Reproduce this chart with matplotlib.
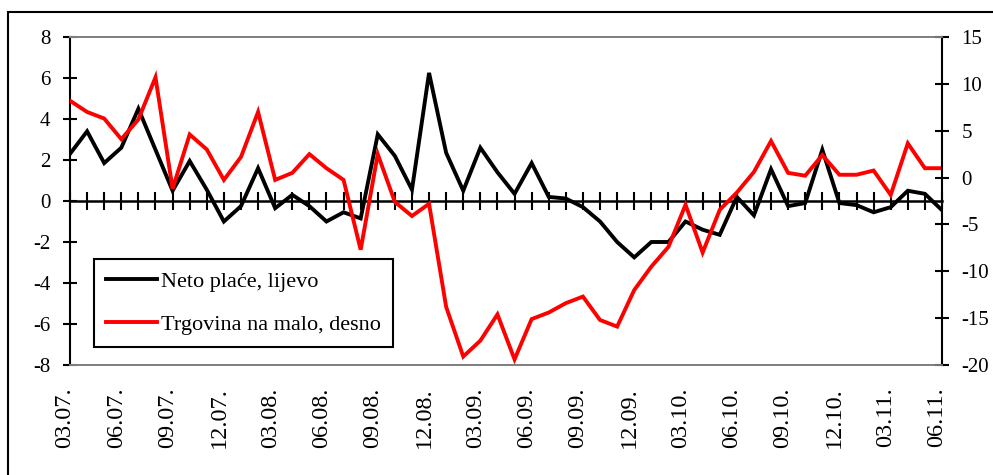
import numpy as np
import matplotlib
matplotlib.use("Agg")
import matplotlib.pyplot as plt
import matplotlib.transforms as mtransforms
from matplotlib.patches import Rectangle

plt.rcParams.update({
    "font.family": ["Liberation Serif", "DejaVu Serif"],
    "axes.unicode_minus": False,
})

# monthly data 03.07. - 06.11.
months = [f"{m:02d}.{y:02d}." for y in range(7, 12) for m in range(1, 13)][2:54]

neto_place = [2.3, 3.4, 1.85, 2.6, 4.5, 2.5, 0.5, 1.95, 0.55, -1.0,
              -0.25, 1.6, -0.35, 0.3, -0.25, -1.0, -0.55, -0.85, 3.25, 2.2,
              0.55, 6.25, 2.35, 0.5, 2.6, 1.4, 0.35, 1.85, 0.2, 0.12,
              -0.3, -1.0, -2.0, -2.75, -2.0, -2.0, -1.0, -1.4, -1.65, 0.2,
              -0.7, 1.55, -0.25, -0.1, 2.5, -0.1, -0.2, -0.55, -0.3, 0.5,
              0.35, -0.45]

trgovina = [8.2, 7.0, 6.3, 4.1, 6.2, 10.7, -1.2, 4.6, 3.0, -0.25,
            2.2, 7.0, -0.25, 0.5, 2.5, 1.0, -0.25, -7.7, 2.5, -2.6,
            -4.1, -2.8, -13.8, -19.1, -17.4, -14.6, -19.4, -15.1, -14.4, -13.4,
            -12.7, -15.2, -15.9, -12.0, -9.5, -7.4, -2.9, -8.0, -3.45, -1.6,
            0.6, 3.9, 0.5, 0.2, 2.4, 0.3, 0.3, 0.75, -1.85, 3.65,
            1.0, 1.0]

left_ticks = [-8, -6, -4, -2, 0, 2, 4, 6, 8]
right_ticks = [-20, -15, -10, -5, 0, 5, 10, 15]
labels = ["Neto plaće, lijevo", "Trgovina na malo, desno"]

W, H = 993, 475
fig = plt.figure(figsize=(W / 100, H / 100), dpi=100)
fig.patch.set_facecolor("white")
box = [70 / W, 1 - 365 / H, 872 / W, 328 / H]
ax = fig.add_axes(box)
ax.patch.set_visible(False)
ax2 = ax.twinx()

x = np.arange(len(months))
l1, = ax.plot(x, neto_place, color="black", lw=2.8, solid_joinstyle="miter")
l2, = ax2.plot(x, trgovina, color="#ff0000", lw=2.8, solid_joinstyle="miter")

ax.set_xlim(0, len(months) - 1)
ax.set_ylim(-8, 8)
ax2.set_ylim(-20, 15)

for a in (ax, ax2):
    a.spines["top"].set_color("#808080")
    a.spines["bottom"].set_color("#808080")
    a.spines["top"].set_linewidth(1.3)
    a.spines["bottom"].set_linewidth(1.3)
ax.spines["left"].set_linewidth(1.5)
ax2.spines["right"].set_linewidth(1.5)
ax.spines["right"].set_visible(False)
ax2.spines["left"].set_visible(False)

ax.set_yticks(left_ticks)
ax.set_yticklabels([str(v) for v in left_ticks])
ax.tick_params(axis="y", direction="inout", length=10, width=1.5, pad=9,
               labelsize=15)
ax2.set_yticks(right_ticks)
ax2.set_yticklabels([str(v) for v in right_ticks])
ax2.tick_params(axis="y", direction="inout", length=10, width=1.5, pad=9,
                labelsize=15)

# month labels at the bottom
ax.set_xticks(x[::3])
ax.set_xticklabels(months[::3], rotation=90)
ax.tick_params(axis="x", length=0, pad=16, labelsize=17.5)
shift = mtransforms.ScaledTranslation(-5 / 100, 0, fig.dpi_scale_trans)
for t in ax.get_xticklabels():
    t.set_transform(t.get_transform() + shift)

# zero line with monthly ticks crossing it (behind the series)
zero_frac = (0 - ax.get_ylim()[0]) / (ax.get_ylim()[1] - ax.get_ylim()[0])
ax3 = fig.add_axes([box[0], box[1] + zero_frac * box[3], box[2], 1e-6])
ax3.set_zorder(-1)
ax3.patch.set_visible(False)
ax3.set_xlim(ax.get_xlim())
ax3.set_yticks([])
for side in ("top", "left", "right"):
    ax3.spines[side].set_visible(False)
ax3.spines["bottom"].set_linewidth(1.8)
ax3.set_xticks(x)
ax3.set_xticklabels([""] * len(x))
ax3.tick_params(axis="x", direction="out", length=6.5, width=1.5,
                bottom=True, top=True, labelbottom=False, labeltop=False)

leg = ax2.legend([l1, l2], labels, loc="upper left",
                 bbox_to_anchor=(94 / W, 1 - 259 / H),
                 bbox_transform=fig.transFigure, borderaxespad=0,
                 fontsize=16, fancybox=False, framealpha=1, edgecolor="black",
                 handlelength=2.3, handletextpad=0.15, labelspacing=1.0,
                 borderpad=0.55)
leg.get_frame().set_linewidth(1.5)

# outer frame of the chart
fig.add_artist(Rectangle((8 / W, -0.1), 1.2, 1.1 - 12 / H, fill=False,
                         lw=1.5, edgecolor="black",
                         transform=fig.transFigure, clip_on=False))

fig.savefig("out.png", dpi=100, facecolor="white")
